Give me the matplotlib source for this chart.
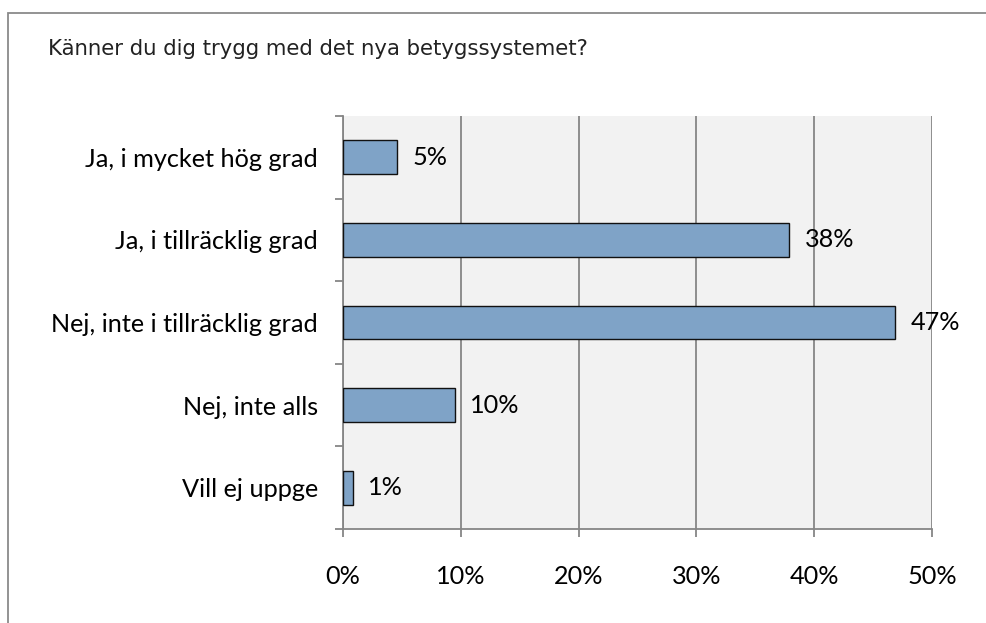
import matplotlib.pyplot as plt
import matplotlib.patches as patches
import numpy as np

# Survey answers, top to bottom
categories = ['Ja, i mycket hög grad', 'Ja, i tillräcklig grad',
              'Nej, inte i tillräcklig grad', 'Nej, inte alls', 'Vill ej uppge']
shares = [4.6, 37.9, 46.9, 9.5, 0.85]
x_ticks = [0, 10, 20, 30, 40, 50]
title = 'Känner du dig trygg med det nya betygssystemet?'

axis_grey = '#868686'
bar_blue = '#7FA3C7'
label_size = 18.2

fig = plt.figure(figsize=(9.87, 6.23), dpi=100)
# outer chart frame (only left and top edges are visible in the picture)
fig.patches.append(patches.Rectangle((8.5 / 987, -0.1), 1.2, 1.1 - 13.5 / 623,
                                     transform=fig.transFigure, fill=False,
                                     edgecolor='#8a8a8a', linewidth=1.3))
fig.text(48 / 987, 1 - 55 / 623, title, fontsize=15.3, family='DejaVu Sans',
         color='#222222', va='baseline')

ax = fig.add_axes([343 / 987, 1 - 529 / 623, (932 - 343) / 987, (529 - 116) / 623])
ax.set_facecolor('#F2F2F2')

y_pos = np.arange(len(categories))
ax.barh(y_pos, shares, height=0.41, color=bar_blue, edgecolor='#111111',
        linewidth=1.0, zorder=3)
for y, v in zip(y_pos, shares):
    ax.annotate(f'{v:.0f}%', xy=(v, y), xytext=(11, 0), textcoords='offset points',
                va='center', ha='left', fontsize=label_size, family='Lato', zorder=4)

ax.set_xlim(0, 50)
ax.set_ylim(len(categories) - 0.5, -0.5)
ax.set_xticks(x_ticks)
ax.set_xticklabels([f'{t}%' for t in x_ticks], fontsize=label_size, family='Lato')
ax.set_yticks(y_pos)
ax.set_yticklabels(categories, fontsize=label_size, family='Lato')
ax.set_yticks(np.arange(-0.5, len(categories)), minor=True)
ax.tick_params(axis='y', which='major', length=0, pad=18)
ax.tick_params(axis='y', which='minor', length=6, width=1.3, color=axis_grey)
ax.tick_params(axis='x', length=6, width=1.3, color=axis_grey, pad=20)
ax.grid(axis='x', color=axis_grey, linewidth=1.3, zorder=1)
ax.set_axisbelow(True)
for side in ['top', 'right']:
    ax.spines[side].set_visible(False)
for side in ['left', 'bottom']:
    ax.spines[side].set_color(axis_grey)
    ax.spines[side].set_linewidth(1.3)

fig.savefig('out.png', dpi=100)
